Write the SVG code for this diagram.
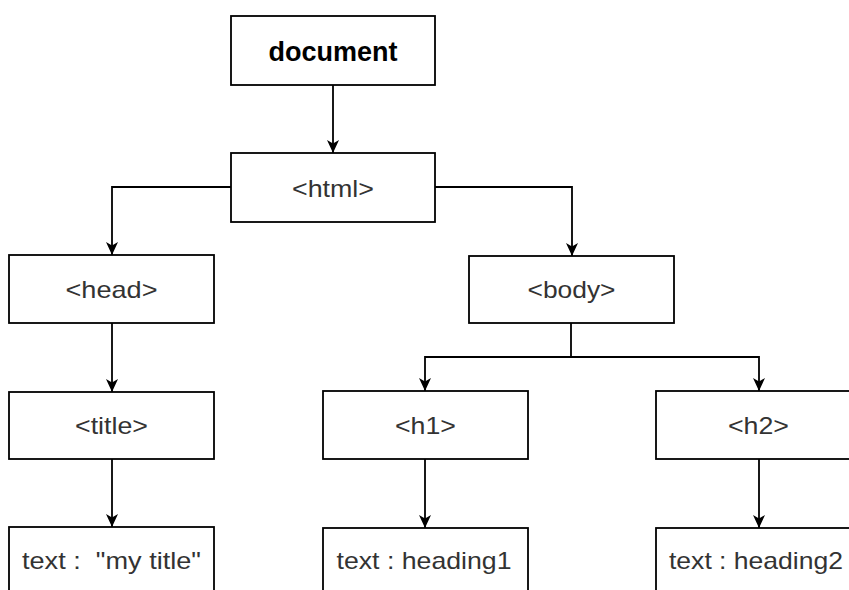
<svg xmlns="http://www.w3.org/2000/svg" width="849" height="590" viewBox="0 0 849 590">
<style>
.box{fill:#fff;stroke:#000;stroke-width:1.8}
.lbl{font-family:"Liberation Sans",Arial,sans-serif;font-size:24px;fill:#333;text-anchor:middle}
.bold{font-family:"Liberation Sans",Arial,sans-serif;font-size:27px;font-weight:bold;fill:#000;text-anchor:middle}
.edge{fill:none;stroke:#000;stroke-width:1.8;marker-end:url(#arr)}
</style>
<defs>
<marker id="arr" markerUnits="userSpaceOnUse" markerWidth="14" markerHeight="13" refX="13" refY="6.5" orient="auto" viewBox="0 0 14 13">
<path d="M0,0.5 L13,6.5 L0,12.5 L3.5,6.5 z" fill="#000"/>
</marker>
</defs>
<rect width="849" height="590" fill="#fff"/>
<g id="connectors">
<path class="edge" d="M333,85 V153"/>
<path class="edge" d="M231,187 H112 V255"/>
<path class="edge" d="M435,187 H572 V256"/>
<path class="edge" d="M112,323 V392"/>
<path class="edge" d="M112,459 V527"/>
<path class="edge" d="M571,323 V357 H425 V391"/>
<path class="edge" d="M571,357 H759 V391"/>
<path class="edge" d="M425,459 V528"/>
<path class="edge" d="M759,459 V528"/>
</g>
<g id="document"><rect class="box" x="231" y="16" width="204" height="69"/><text class="bold" x="333" y="61">document</text></g>
<g id="html"><rect class="box" x="231" y="153" width="204" height="69"/><text class="lbl" x="333" y="197" textLength="82" lengthAdjust="spacingAndGlyphs">&lt;html&gt;</text></g>
<g id="head"><rect class="box" x="9" y="255" width="205" height="68"/><text class="lbl" x="111.5" y="298" textLength="92" lengthAdjust="spacingAndGlyphs">&lt;head&gt;</text></g>
<g id="body"><rect class="box" x="469" y="256" width="205" height="67"/><text class="lbl" x="571.5" y="298" textLength="88" lengthAdjust="spacingAndGlyphs">&lt;body&gt;</text></g>
<g id="title"><rect class="box" x="9" y="392" width="205" height="67"/><text class="lbl" x="111.5" y="434" textLength="73" lengthAdjust="spacingAndGlyphs">&lt;title&gt;</text></g>
<g id="h1"><rect class="box" x="323" y="391" width="205" height="68"/><text class="lbl" x="425.5" y="434" textLength="61" lengthAdjust="spacingAndGlyphs">&lt;h1&gt;</text></g>
<g id="h2"><rect class="box" x="656" y="391" width="205" height="68"/><text class="lbl" x="758.5" y="434" textLength="61" lengthAdjust="spacingAndGlyphs">&lt;h2&gt;</text></g>
<g id="text-title"><rect class="box" x="9" y="527" width="205" height="70"/><text class="lbl" x="111.5" y="569" textLength="179" lengthAdjust="spacingAndGlyphs" xml:space="preserve">text :  "my title"</text></g>
<g id="text-heading1"><rect class="box" x="323" y="528" width="205" height="70"/><text class="lbl" x="424" y="569" textLength="175" lengthAdjust="spacingAndGlyphs">text : heading1</text></g>
<g id="text-heading2"><rect class="box" x="656" y="528" width="205" height="70"/><text class="lbl" x="756" y="569" textLength="174" lengthAdjust="spacingAndGlyphs">text : heading2</text></g>
</svg>
